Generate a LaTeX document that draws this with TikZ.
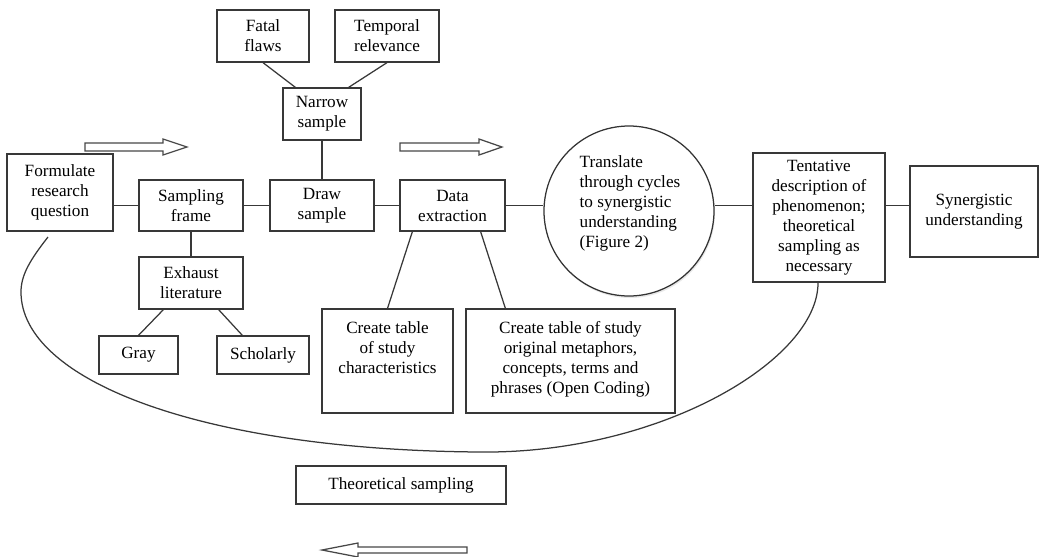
\documentclass[tikz,border=0pt]{standalone}
\usepackage{fontspec}
\setmainfont{Liberation Serif}
\usetikzlibrary{calc,shadows}
\newcommand\pbox[6]{\node[box, minimum width={(#3-#1)*0.6pt}, minimum height={(#4-#2)*0.6pt}] (#5) at ({(#1+#3)/2},{(#2+#4)/2}) {#6};}
\begin{document}
\begin{tikzpicture}[x=0.6pt,y=-0.6pt,
  txt/.style={inner sep=0pt, align=center, text=black, font=\fontsize{10.3}{12}\selectfont},
  box/.style={txt, draw=black!78, line width=0.75pt},
  lnk/.style={draw=black!78, line width=0.75pt},
  harrow/.style={draw=black!72, line width=0.75pt, fill=white, line join=miter}]
\useasboundingbox (0,0) rectangle (1039,556);
% boxes
\pbox{7}{154}{113}{231}{frq}{Formulate\\research\\question}
\pbox{139}{180}{243}{231}{sf}{Sampling\\frame}
\pbox{270}{180}{374}{231}{ds}{Draw\\sample}
\pbox{400}{180}{505}{231}{dex}{Data\\extraction}
\pbox{283}{88}{361}{140}{ns}{Narrow\\sample}
\pbox{217}{10}{309}{62}{ff}{Fatal\\flaws}
\pbox{335}{10}{439}{62}{tr}{Temporal\\relevance}
\pbox{139}{257}{243}{309}{el}{Exhaust\\literature}
\pbox{99}{336}{178}{374}{gray}{Gray}
\pbox{217}{336}{309}{374}{sch}{Scholarly}
\pbox{322}{309}{453}{413}{ct1}{}
\node[txt, anchor=north] (ct1t) at (387.5,321) {Create table\\of study\\characteristics};
\pbox{466}{309}{675}{413}{ct2}{}
\node[txt, anchor=north] (ct2t) at (570.5,321) {Create table of study\\original metaphors,\\concepts, terms and\\phrases (Open Coding)};
\pbox{296}{466}{506}{504}{ts}{Theoretical sampling}
\pbox{753}{153}{885}{282}{tent}{Tentative\\description of\\phenomenon;\\theoretical\\sampling as\\necessary}
\pbox{910}{166}{1038}{257}{syn}{Synergistic\\understanding}
% circle
\node[circle, draw=black!80, line width=0.75pt, fill=white, minimum size=102pt, inner sep=0pt,
      drop shadow={opacity=0.18, shadow xshift=0.6pt, shadow yshift=-1.2pt}] (circ) at (629,211) {};
\node[txt, align=left] (circt) at (630,203) {Translate\\through cycles\\to synergistic\\understanding\\(Figure 2)};
% connectors
\draw[lnk] (sf.west -| frq.east) -- (sf.west);
\draw[lnk] (sf) -- (ds);
\draw[lnk] (ds) -- (dex);
\draw[lnk] (dex.east) -- (dex.east -| circ.west);
\draw[lnk] (circ.east |- dex.east) -- (tent.west |- dex.east);
\draw[lnk] (tent.east |- dex.east) -- (syn.west |- dex.east);
\draw[lnk] (ns) -- (ds);
\draw[lnk] (ff.south) -- ($(ns.north west)+(13,0)$);
\draw[lnk] (tr.south) -- ($(ns.north east)+(-13,0)$);
\draw[lnk] (sf) -- (el);
\draw[lnk] ($(el.south west)+(25,0)$) -- (gray.north);
\draw[lnk] ($(el.south east)+(-25,0)$) -- ($(sch.north west)+(26,0)$);
\draw[lnk] ($(dex.south west)+(13,0)$) -- (ct1.north);
\draw[lnk] ($(dex.south east)+(-25,0)$) -- ($(ct2.north west)+(40,0)$);
% big loop
\coordinate (cstart) at (48,237);
\coordinate (cend) at (818,283);
\draw[lnk] (cstart) .. controls (30,260) and (21,275) .. (21,292)
  .. controls (21,380) and (200,450) .. (480,452)
  .. controls (660,454) and (818,360) .. (cend);
% hollow arrows
\draw[harrow] (85,143) -- (163,143) -- (163,139) -- (187,147) -- (163,155) -- (163,151) -- (85,151) -- cycle;
\draw[harrow] (400,143) -- (479,143) -- (479,139) -- (502,147) -- (479,155) -- (479,151) -- (400,151) -- cycle;
\draw[harrow] (322,550) -- (358,543) -- (358,547) -- (467,547) -- (467,553) -- (358,553) -- (358,557) -- cycle;
\end{tikzpicture}
\end{document}
